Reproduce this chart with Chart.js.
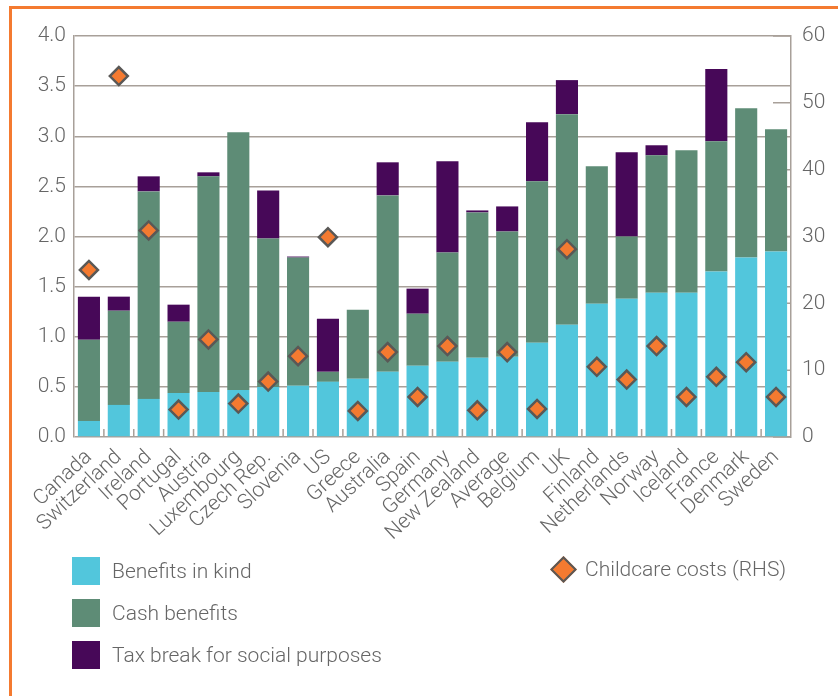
<!DOCTYPE html>
<html>
<head>
<meta charset="utf-8">
<script src="https://cdn.jsdelivr.net/npm/chart.js@4"></script>
<style>
  html, body { margin: 0; padding: 0; background: #fff; }
  #wrap { position: relative; width: 838px; height: 696px; overflow: hidden; font-family: "Roboto", "Liberation Sans", sans-serif; }
  #frame { position: absolute; left: 9px; top: 6px; width: 900px; height: 800px; border-left: 3px solid #f47a30; border-top: 3px solid #f47a30; }
  #chartCanvas { position: absolute; left: 0; top: 0; }
  .legend-item { position: absolute; display: flex; align-items: center; color: #666; font-size: 21px; font-weight: 300; }
  .swatch { width: 28px; height: 28px; margin-right: 12px; }
  .diamond { width: 15px; height: 15px; background: #f47a30; border: 2.5px solid #5a5856; transform: rotate(45deg); margin: 0 12px 0 3px; }
</style>
</head>
<body>
<div id="wrap">
  <div id="frame"></div>
  <canvas id="chartCanvas" width="838" height="696"></canvas>
  <div class="legend-item" style="left:72px; top:557px;"><div class="swatch" style="background:#52c6dc"></div>Benefits in kind</div>
  <div class="legend-item" style="left:72px; top:599px;"><div class="swatch" style="background:#5e8c76"></div>Cash benefits</div>
  <div class="legend-item" style="left:72px; top:641px;"><div class="swatch" style="background:#470858"></div>Tax break for social purposes</div>
  <div class="legend-item" style="left:551px; top:557px;"><div class="diamond"></div>Childcare costs (RHS)</div>
</div>
<script>
// Chart values
const countries = [
  "Canada", "Switzerland", "Ireland", "Portugal", "Austria", "Luxembourg",
  "Czech Rep.", "Slovenia", "US", "Greece", "Australia", "Spain", "Germany",
  "New Zealand", "Average", "Belgium", "UK", "Finland", "Netherlands",
  "Norway", "Iceland", "France", "Denmark", "Sweden"
];
const benefitsInKind = [0.16, 0.32, 0.38, 0.44, 0.45, 0.47, 0.50, 0.51, 0.55, 0.58, 0.65, 0.71, 0.75, 0.79, 0.80, 0.94, 1.12, 1.33, 1.38, 1.44, 1.44, 1.65, 1.79, 1.85];
const cashBenefits = [0.81, 0.94, 2.07, 0.71, 2.15, 2.57, 1.48, 1.28, 0.10, 0.69, 1.76, 0.52, 1.09, 1.45, 1.25, 1.61, 2.10, 1.37, 0.62, 1.37, 1.42, 1.30, 1.49, 1.22];
const taxBreaks = [0.43, 0.14, 0.15, 0.17, 0.04, 0, 0.48, 0.01, 0.53, 0, 0.33, 0.25, 0.91, 0.02, 0.25, 0.59, 0.34, 0, 0.84, 0.10, 0, 0.72, 0, 0];
const childcareCosts = [25, 54, 30.9, 4.1, 14.6, 5.0, 8.3, 12.1, 29.9, 3.9, 12.7, 6.0, 13.6, 4.0, 12.7, 4.2, 28.1, 10.5, 8.6, 13.6, 6.0, 9.0, 11.2, 6.0];
const leftTicks = [0, 0.5, 1, 1.5, 2, 2.5, 3, 3.5, 4];
const rightTicks = [0, 10, 20, 30, 40, 50, 60];

const axisColor = "#a8a099";
const textColor = "#666666";
const fontFamily = "Roboto, 'Liberation Sans', sans-serif";

// small tick marks drawn inside the plot: category boundaries and right-hand scale
const innerTicks = {
  id: "innerTicks",
  beforeDatasetsDraw(chart) {
    const ctx = chart.ctx;
    const area = chart.chartArea;
    const x = chart.scales.x;
    const y2 = chart.scales.y2;
    ctx.save();
    ctx.strokeStyle = axisColor;
    ctx.lineWidth = 1.5;
    ctx.beginPath();
    for (let i = 1; i < countries.length; i++) {
      const px = (x.getPixelForValue(i - 1) + x.getPixelForValue(i)) / 2;
      ctx.moveTo(px, area.bottom);
      ctx.lineTo(px, area.bottom - 8);
    }
    rightTicks.forEach((t) => {
      const py = y2.getPixelForValue(t);
      ctx.moveTo(area.right, py);
      ctx.lineTo(area.right - 18, py);
    });
    ctx.stroke();
    ctx.restore();
  },
};

const ctx = document.getElementById("chartCanvas").getContext("2d");

new Chart(ctx, {
  type: "bar",
  data: {
    labels: countries,
    datasets: [
      {
        type: "line",
        label: "Childcare costs (RHS)",
        data: childcareCosts,
        yAxisID: "y2",
        showLine: false,
        pointStyle: "rectRot",
        pointRadius: 9,
        pointBackgroundColor: "#f47a30",
        pointBorderColor: "#5a5856",
        pointBorderWidth: 2.5,
        order: 0,
      },
      {
        label: "Benefits in kind",
        data: benefitsInKind,
        backgroundColor: "#52c6dc",
        yAxisID: "y",
        order: 1,
      },
      {
        label: "Cash benefits",
        data: cashBenefits,
        backgroundColor: "#5e8c76",
        yAxisID: "y",
        order: 1,
      },
      {
        label: "Tax break for social purposes",
        data: taxBreaks,
        backgroundColor: "#470858",
        yAxisID: "y",
        order: 1,
      },
    ],
  },
  options: {
    responsive: false,
    animation: false,
    barPercentage: 0.74,
    categoryPercentage: 1,
    layout: {
      padding: { top: 36, left: 0, right: 0, bottom: 0 },
    },
    plugins: {
      legend: { display: false },
      tooltip: { enabled: false },
    },
    scales: {
      x: {
        stacked: true,
        grid: { display: false },
        border: { display: false },
        ticks: {
          color: textColor,
          font: { family: fontFamily, size: 21, weight: 300 },
          minRotation: 43,
          maxRotation: 43,
          padding: 0,
          autoSkip: false,
        },
        afterFit: function (scale) {
          scale.height = 259;
        },
      },
      y: {
        stacked: true,
        position: "left",
        min: 0,
        max: 4,
        afterBuildTicks: function (scale) {
          scale.ticks = leftTicks.map((v) => ({ value: v }));
        },
        grid: {
          color: axisColor,
          lineWidth: 1.5,
          drawTicks: false,
        },
        border: { color: axisColor, width: 1.5 },
        ticks: {
          color: textColor,
          font: { family: fontFamily, size: 21, weight: 300 },
          padding: 8,
          callback: function (value) {
            return Number(value).toFixed(1);
          },
        },
        afterFit: function (scale) {
          scale.width = 74;
        },
      },
      y2: {
        position: "right",
        min: 0,
        max: 60,
        afterBuildTicks: function (scale) {
          scale.ticks = rightTicks.map((v) => ({ value: v }));
        },
        grid: { drawOnChartArea: false, drawTicks: false },
        border: { color: axisColor, width: 1.5 },
        ticks: {
          color: textColor,
          font: { family: fontFamily, size: 21, weight: 300 },
          padding: 11,
        },
        afterFit: function (scale) {
          scale.width = 47;
        },
      },
    },
  },
  plugins: [innerTicks],
});
</script>
</body>
</html>
